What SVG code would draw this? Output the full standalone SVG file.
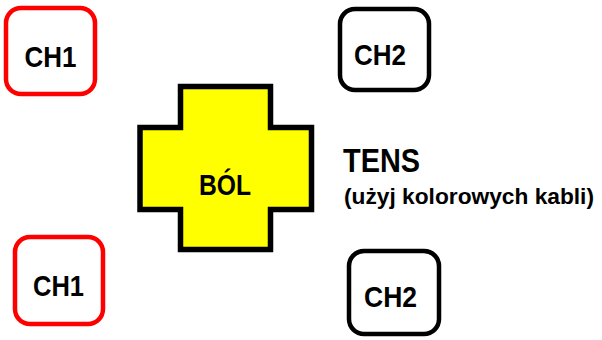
<svg xmlns="http://www.w3.org/2000/svg" width="602" height="340" viewBox="0 0 602 340">
<style>
.box{fill:#fff;stroke-width:4.5}
.red{stroke:#ff0000}
.blk{stroke:#000}
.lbl{font-family:"Liberation Sans",Arial,sans-serif;font-weight:bold;fill:#000;text-anchor:middle}
.st{text-anchor:start}
.ch{font-size:30px}
</style>
<rect width="602" height="340" fill="#fff"/>
<g id="ch1-top">
<rect class="box red" x="6" y="8" width="89" height="86" rx="15"/>
<text class="lbl ch" x="50.5" y="67" textLength="52" lengthAdjust="spacingAndGlyphs">CH1</text>
</g>
<g id="ch2-top">
<rect class="box blk" x="340" y="9" width="89" height="81" rx="15"/>
<text class="lbl ch" x="380" y="65" textLength="52" lengthAdjust="spacingAndGlyphs">CH2</text>
</g>
<g id="ch1-bottom">
<rect class="box red" x="15" y="237" width="88" height="87" rx="15"/>
<text class="lbl ch" x="58.5" y="296" textLength="51" lengthAdjust="spacingAndGlyphs">CH1</text>
</g>
<g id="ch2-bottom">
<rect class="box blk" x="349" y="251" width="90" height="83" rx="15"/>
<text class="lbl ch" x="390.5" y="307" textLength="53" lengthAdjust="spacingAndGlyphs">CH2</text>
</g>
<g id="bol">
<path d="M180.5 86.5 H270.5 V127.5 H311.5 V209.5 H270.5 V249.5 H180.5 V209.5 H140 V127.5 H180.5 Z" fill="#ffff00" stroke="#000" stroke-width="5.5"/>
<text class="lbl" x="225" y="195" font-size="29" textLength="52" lengthAdjust="spacingAndGlyphs">BÓL</text>
</g>
<g id="tens">
<text class="lbl st" x="343" y="172" font-size="33" textLength="77" lengthAdjust="spacingAndGlyphs">TENS</text>
<text class="lbl st" x="344" y="204" font-size="22" textLength="250" lengthAdjust="spacingAndGlyphs">(użyj kolorowych kabli)</text>
</g>
<g id="connectors"></g>
</svg>
